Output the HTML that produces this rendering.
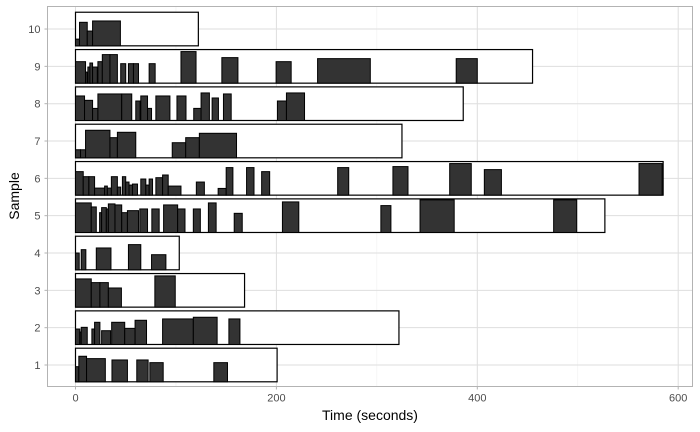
<!DOCTYPE html>
<html><head><meta charset="utf-8"><style>
html,body{margin:0;padding:0;background:#fff;}
svg{display:block;font-family:"Liberation Sans",sans-serif;}
</style></head><body>
<svg id="chart" width="700" height="432" xmlns="http://www.w3.org/2000/svg">
<rect x="0" y="0" width="700" height="432" fill="#fff"/>
<g id="grid"></g>
<g id="rows"></g>
<rect x="47.5" y="6.5" width="645" height="380" fill="none" stroke="#b3b3b3" stroke-width="1"/>
<g id="axes"></g>
<text x="370" y="420" text-anchor="middle" font-size="14" fill="#000">Time (seconds)</text>
<text x="19" y="196" text-anchor="middle" font-size="14" fill="#000" transform="rotate(-90 19 196)">Sample</text>
</svg>
<script>
const samples = [1,2,3,4,5,6,7,8,9,10];
const totals = [200.7,322,168.3,103.3,527,585,325,386,455,122.3];
const xTicks = [0,200,400,600];
const xMinor = [100,300,500];
// segments per sample: [start, end, relative height]
const seg1 = [[0,3.3,.45],[3.3,11,.76],[11,29.7,.69],[36.3,51.7,.65],[61,72.3,.65],[74,87.3,.57],[137.7,151.3,.57]];
const seg2 = [[0,4.3,.46],[4.3,5.7,.37],[5.7,11.7,.51],[16.3,19,.46],[19,24.3,.66],[26,35,.41],[36,49,.66],[49,59.3,.48],[59.3,70.7,.72],[86.7,117.3,.76],[117.3,141,.81],[152.7,163.7,.76]];
const seg3 = [[0,15.7,.84],[15.7,24.3,.73],[24.3,32.7,.73],[32.7,45.7,.57],[79,99.3,.93]];
const seg4 = [[0,3.7,.5],[5.7,10.3,.6],[20.7,35.3,.65],[52.7,65,.75],[75.7,90,.45]];
const seg5 = [[0,15.7,.88],[15.7,20.7,.76],[24,26,.59],[26,30.7,.74],[30.7,32.7,.7],[32.7,39.3,.85],[39.3,46,.82],[46,51.7,.59],[51.7,62.7,.65],[64,71.7,.7],[76,83.3,.7],[87.7,101.7,.82],[101.7,109,.7],[117.3,124.3,.7],[132.3,140,.88],[158,166,.57],[206,222.3,.91],[304,314,.8],[343,377,.97],[476,499,.97]];
const seg6 = [[0,7.7,.7],[7.7,13.3,.55],[13.3,19,.55],[19,29,.21],[29,31.7,.27],[31.7,35.7,.21],[35.7,41.7,.55],[41.7,45,.24],[46.7,50,.55],[50,53.3,.39],[53.3,56.7,.3],[56.7,61.7,.33],[65,70,.48],[70,73.3,.3],[73.3,76.7,.48],[80,86.7,.52],[86.7,92.3,.6],[92.3,105,.27],[120.3,128.3,.39],[142,150,.2],[150,156.7,.82],[170.3,177.7,.82],[185.3,193.3,.7],[261,272,.82],[316,331,.85],[372.5,394,.94],[407,424,.76],[561,584,.94]];
const seg7 = [[0,5,.24],[5,10,.24],[10,34.3,.82],[34.3,41.7,.6],[41.7,60,.76],[96.3,109.7,.45],[109.7,123.3,.6],[123.3,160.3,.73]];
const seg8 = [[0,9,.73],[9,17,.6],[17,22.3,.36],[22.3,46,.79],[46,56,.79],[60,64.3,.58],[65,71.7,.73],[71.7,75.7,.36],[80,94,.73],[101,110,.73],[117.7,125,.36],[125,133.3,.82],[136,142.3,.67],[147.3,155,.79],[201,210,.58],[210,228,.82]];
const seg9 = [[0,10,.64],[10,11.7,.33],[12.3,15,.48],[14.3,17,.6],[17,21.7,.48],[22.3,26.7,.64],[26.7,34.3,.85],[34.3,41.7,.85],[45,50,.58],[52.7,57.7,.58],[57.7,62.7,.58],[73.3,79.3,.58],[105,120,.94],[145.7,161.7,.76],[199.7,214.7,.64],[241,293.5,.73],[379,400,.73]];
const seg10 = [[0,4,.2],[4,11.7,.7],[11.7,17,.44],[17,44.7,.74]];
const segments = [seg1,seg2,seg3,seg4,seg5,seg6,seg7,seg8,seg9,seg10];

const NS="http://www.w3.org/2000/svg";
const X0=47.5,X1=692.5,Y0=6.5,Y1=386.5;
function xs(d){return 75.5 + d*1.0045;}
function ys(s){return 365 - (s-1)*37.33;}
const halfH = 0.45*37.33;
function mk(tag,attrs,parent){const e=document.createElementNS(NS,tag);for(const k in attrs)e.setAttribute(k,attrs[k]);parent.appendChild(e);return e;}
const grid=document.getElementById('grid'),rows=document.getElementById('rows'),axes=document.getElementById('axes');
xMinor.forEach(v=>{const l=mk('line',{x1:xs(v),x2:xs(v),y1:Y0,y2:Y1,stroke:'#f0f0f0','stroke-width':0.6},grid);

});
xTicks.forEach(v=>{const l=mk('line',{x1:xs(v),x2:xs(v),y1:Y0,y2:Y1,stroke:'#dedede','stroke-width':1},grid);


const t=mk('line',{x1:xs(v),x2:xs(v),y1:Y1,y2:Y1+3,stroke:'#b3b3b3','stroke-width':1},axes);


const tx=mk('text',{x:xs(v),y:Y1+15,'text-anchor':'middle','font-size':11,fill:'#4d4d4d'},axes);tx.textContent=v;

});
samples.forEach((s,i)=>{const y=ys(s);
const l=mk('line',{x1:X0,x2:X1,y1:y,y2:y,stroke:'#dedede','stroke-width':1},grid);


const t=mk('line',{x1:X0-3,x2:X0,y1:y,y2:y,stroke:'#b3b3b3','stroke-width':1},axes);


const tx=mk('text',{x:X0-7,y:y+4,'text-anchor':'end','font-size':11,fill:'#4d4d4d'},axes);tx.textContent=s;


const g=mk('g',{},rows);


const top=y-halfH,bot=y+halfH,H=bot-top;
const r=mk('rect',{x:xs(0),y:top,width:xs(totals[i])-xs(0),height:H,fill:'#fff',stroke:'#000','stroke-width':1.2},g);


segments[i].forEach(sg=>{const h=sg[2]*H;
const b=mk('rect',{x:xs(sg[0]),y:bot-h,width:Math.max(0.5,xs(sg[1])-xs(sg[0])),height:h,fill:'#333333',stroke:'#000','stroke-width':1},g);

});
});
</script>
</body></html>
